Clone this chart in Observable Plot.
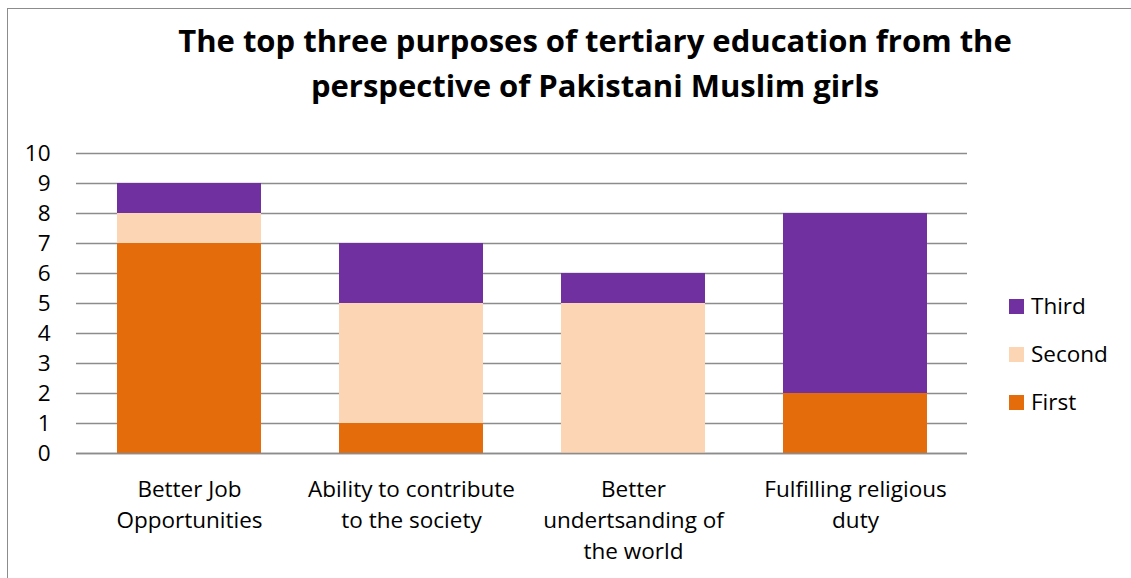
<!DOCTYPE html>
<html><head><meta charset="utf-8">
<script src="https://cdn.jsdelivr.net/npm/d3@7"></script>
<script src="https://cdn.jsdelivr.net/npm/@observablehq/plot@0.6"></script>
<style>
body{margin:0;background:#fff;font-family:"Open Sans",sans-serif;}
#wrap{position:relative;width:1131px;height:578px;overflow:hidden;}
#border{position:absolute;left:7px;top:8px;width:1130px;height:600px;border:1.5px solid #8c8c8c;box-sizing:border-box;}
#title{position:absolute;left:0;width:1190px;top:18px;text-align:center;font-weight:bold;font-size:31px;line-height:45px;color:#000;}
#chart{position:absolute;left:0;top:120px;}
#legend{position:absolute;left:1009px;top:290px;font-size:22.5px;color:#000;}
.li{position:relative;height:48px;}
.sw{position:absolute;left:0;top:9px;width:15px;height:15px;}
.lt{position:absolute;left:22px;top:1px;line-height:30px;}
</style></head>
<body>
<div id="wrap">
<div id="border"></div>
<div id="title">The top three purposes of tertiary education from the<br>perspective of Pakistani Muslim girls</div>
<div id="chart"></div>
<div id="legend"></div>
</div>
<script>
const categories = ["Better Job\nOpportunities", "Ability to contribute\nto the society", "Better\nundertsanding of\nthe world", "Fulfilling religious\nduty"];
const series = ["First", "Second", "Third"];
const first = [7, 1, 0, 2];
const second = [1, 4, 5, 0];
const third = [1, 2, 1, 6];
const colors = ["#E46C0A", "#FCD5B5", "#7030A0"];
const yTicks = [0,1,2,3,4,5,6,7,8,9,10];

const rows = [];
categories.forEach((c, i) => {
  rows.push({cat: c, series: "First", value: first[i]});
  rows.push({cat: c, series: "Second", value: second[i]});
  rows.push({cat: c, series: "Third", value: third[i]});
});

const chart = Plot.plot({
  width: 1131,
  height: 458,
  marginLeft: 76,
  marginRight: 164,
  marginTop: 33,
  marginBottom: 125,
  style: {fontFamily: "'Open Sans', sans-serif", fontSize: "22.5px", color: "#000", background: "transparent"},
  x: {domain: categories, paddingInner: 0.3535, paddingOuter: 0.1768, label: null},
  y: {domain: [0, 10], label: null},
  color: {domain: series, range: colors},
  marks: [
    Plot.ruleY(yTicks, {stroke: "#8c8c8c", strokeWidth: 1.5, strokeOpacity: 1}),
    Plot.barY(rows, {x: "cat", y: "value", fill: "series", order: series}),
    Plot.ruleY([0], {stroke: "#8c8c8c", strokeWidth: 1.5}),
    Plot.ruleX([0], {frameAnchor: "left", y1: 0, y2: 10, stroke: "#8c8c8c", strokeWidth: 1.5}),
    Plot.axisY({ticks: yTicks, tickSize: 0, tickPadding: 26, label: null, fontSize: 22.5}),
    Plot.axisX({tickSize: 0, tickPadding: 21, label: null, fontSize: 22.5, lineHeight: 1.38, textAnchor: "middle"})
  ]
});
document.getElementById("chart").appendChild(chart);

const legend = document.getElementById("legend");
["Third", "Second", "First"].forEach(s => {
  const d = document.createElement("div");
  d.className = "li";
  d.innerHTML = `<div class="sw" style="background:${colors[series.indexOf(s)]}"></div><div class="lt">${s}</div>`;
  legend.appendChild(d);
});
</script>
</body></html>
